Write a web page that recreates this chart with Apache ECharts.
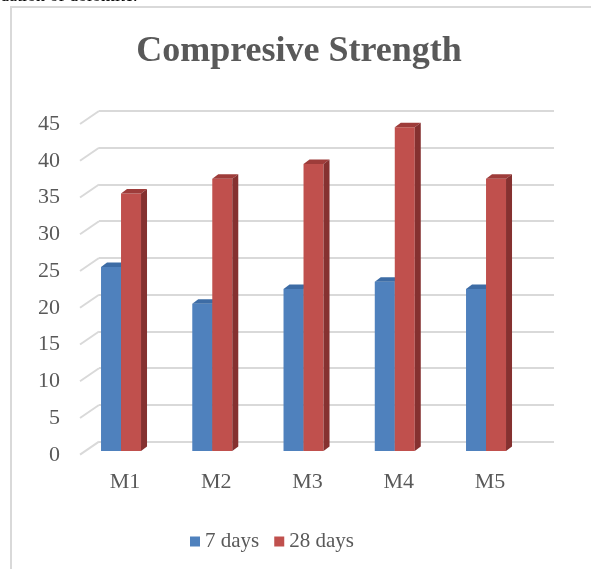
<!DOCTYPE html>
<html>
<head>
<meta charset="utf-8">
<script src="https://cdn.jsdelivr.net/npm/echarts@6/dist/echarts.min.js"></script>
<style>
  html, body { margin: 0; padding: 0; background: #ffffff; }
  #chart { width: 591px; height: 569px; }
</style>
</head>
<body>
<div id="chart"></div>
<script>
// Mix designations and compressive strength results (MPa)
const categories = ['M1', 'M2', 'M3', 'M4', 'M5'];
const days7 = [25, 20, 22, 23, 22];
const days28 = [35, 37, 39, 44, 37];
const seriesNames = ['7 days', '28 days'];
const tickValues = [0, 5, 10, 15, 20, 25, 30, 35, 40, 45];

const FONT = '"Liberation Serif", "Times New Roman", serif';
const TEXT = '#595959';

// Depth of the pseudo-3D bars and the floor perspective (pixels)
const BAR_W = 20, BAR_DX = 6, BAR_DY = 4.5;
const WALL_DX = 19, WALL_DY = 13;

const palette = {
  '7 days':  { front: '#4F81BD', top: '#3D6CA5', side: '#345D8F' },
  '28 days': { front: '#C0504D', top: '#9E3C3A', side: '#853130' }
};

function bar3d(offset, colors) {
  return function (params, api) {
    const base = api.coord([api.value(0), 0]);
    const top = api.coord([api.value(0), api.value(1)]);
    const x0 = base[0] + offset - BAR_W / 2;
    const x1 = x0 + BAR_W;
    const ty = top[1], by = base[1];
    return {
      type: 'group',
      children: [
        { type: 'rect', shape: { x: x0, y: ty, width: BAR_W, height: by - ty },
          style: { fill: colors.front } },
        { type: 'polygon', shape: { points: [[x0, ty], [x1, ty], [x1 + BAR_DX, ty - BAR_DY], [x0 + BAR_DX, ty - BAR_DY]] },
          style: { fill: colors.top } },
        { type: 'polygon', shape: { points: [[x1, ty], [x1 + BAR_DX, ty - BAR_DY], [x1 + BAR_DX, by - BAR_DY], [x1, by]] },
          style: { fill: colors.side } }
      ]
    };
  };
}

const chart = echarts.init(document.getElementById('chart'), null, { renderer: 'canvas' });

chart.setOption({
  backgroundColor: '#ffffff',
  animation: false,
  title: {
    text: 'Compresive Strength',
    left: 294, textAlign: 'center', top: 29,
    textStyle: { fontFamily: FONT, fontSize: 36, fontWeight: 'bold', color: TEXT }
  },
  graphic: [
    { type: 'text', left: 0, top: -13,
      style: { text: 'dation of dolomite.', font: '18px ' + FONT, fill: '#000' } },
    { type: 'rect', shape: { x: 11, y: 7, width: 620, height: 600 },
      style: { fill: 'none', stroke: '#d9d9d9', lineWidth: 2 }, z: -1 }
  ],
  legend: {
    data: seriesNames,
    left: 185, top: 526,
    itemWidth: 10, itemHeight: 10, itemGap: 15,
    icon: 'rect',
    textStyle: { fontFamily: FONT, fontSize: 21, color: TEXT }
  },
  grid: [
    // back wall
    { left: 99, width: 455, top: 111, height: 330.7 },
    // front value labels
    { left: 80, width: 10, top: 124, height: 331 },
    // bars
    { left: 75.4, width: 456.25, top: 119.8, height: 331.2 }
  ],
  xAxis: [
    { gridIndex: 0, type: 'value', min: 0, max: 1, show: false },
    { gridIndex: 1, type: 'value', min: 0, max: 1, show: false },
    { gridIndex: 2, type: 'category', data: categories,
      axisLine: { show: false }, axisTick: { show: false },
      axisLabel: { margin: 20, padding: [0, 0, 0, 8], fontFamily: FONT, fontSize: 22, color: TEXT } }
  ],
  yAxis: [
    { gridIndex: 0, type: 'value', min: 0, max: 45, interval: 5,
      axisLine: { show: false }, axisTick: { show: false }, axisLabel: { show: false },
      splitLine: { lineStyle: { color: '#d9d9d9', width: 2 } } },
    { gridIndex: 1, type: 'value', min: 0, max: 45, interval: 5,
      axisLine: { show: false }, axisTick: { show: false }, splitLine: { show: false },
      axisLabel: { margin: 20, fontFamily: FONT, fontSize: 22, color: TEXT } },
    { gridIndex: 2, type: 'value', min: 0, max: 45, interval: 5, show: false }
  ],
  series: [
    {
      // floor perspective strokes on the left wall edge
      type: 'custom', xAxisIndex: 0, yAxisIndex: 0, silent: true,
      data: tickValues.map(v => [0, v]),
      renderItem: function (params, api) {
        const p = api.coord([0, api.value(1)]);
        return { type: 'line',
          shape: { x1: p[0] - WALL_DX, y1: p[1] + WALL_DY, x2: p[0], y2: p[1] },
          style: { stroke: '#d9d9d9', lineWidth: 2 } };
      }
    },
    {
      name: seriesNames[0], type: 'custom', xAxisIndex: 2, yAxisIndex: 2,
      itemStyle: { color: palette['7 days'].front },
      data: days7.map((v, i) => [i, v]),
      encode: { x: 0, y: 1 },
      renderItem: bar3d(-BAR_W / 2, palette['7 days'])
    },
    {
      name: seriesNames[1], type: 'custom', xAxisIndex: 2, yAxisIndex: 2,
      itemStyle: { color: palette['28 days'].front },
      data: days28.map((v, i) => [i, v]),
      encode: { x: 0, y: 1 },
      renderItem: bar3d(BAR_W / 2, palette['28 days'])
    }
  ]
});
</script>
</body>
</html>
